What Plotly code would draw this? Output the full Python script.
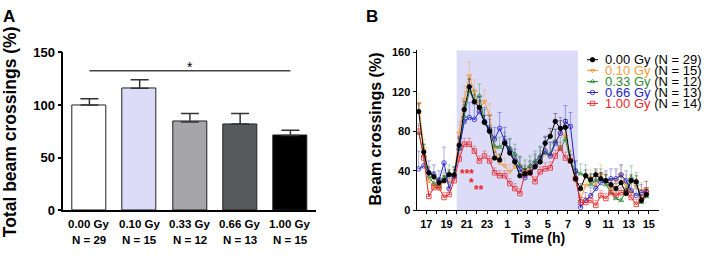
import plotly.graph_objects as go

W, H = 709, 256
FONT = "Liberation Sans, Arial, sans-serif"


def px(x):
    return x / W


def py(y):
    return 1 - y / H


def rgba(hex_col, a):
    h = hex_col.lstrip("#")
    return f"rgba({int(h[0:2], 16)},{int(h[2:4], 16)},{int(h[4:6], 16)},{a})"


# ---------------- Panel A data ----------------
doses_a = ["0.00 Gy", "0.10 Gy", "0.33 Gy", "0.66 Gy", "1.00 Gy"]
n_a = [29, 15, 12, 13, 15]
total_mean = [100, 116, 84, 82, 71]
total_sem = [6, 8, 8, 10, 5]
bar_colors = ["#FFFFFF", "#DCDCF8", "#A6A6AA", "#58595B", "#000000"]

# ---------------- Panel B data ----------------
time_h = [16.25, 16.75, 17.25, 17.75, 18.25, 18.75, 19.25, 19.75, 20.25, 20.75,
          21.25, 21.75, 22.25, 22.75, 23.25, 23.75, 24.25, 24.75, 25.25, 25.75,
          26.25, 26.75, 27.25, 27.75, 28.25, 28.75, 29.25, 29.75, 30.25, 30.75,
          31.25, 31.75, 32.25, 32.75, 33.25, 33.75, 34.25, 34.75, 35.25, 35.75,
          36.25, 36.75, 37.25, 37.75, 38.25, 38.75]
tick_hours = [17, 18, 19, 20, 21, 22, 23, 24, 25, 26, 27, 28, 29, 30, 31, 32, 33, 34, 35, 36, 37, 38, 39]
tick_labels = ["17", "", "19", "", "21", "", "23", "", "1", "", "3", "", "5", "", "7", "",
               "9", "", "11", "", "13", "", "15"]
dark_start, dark_end = 20, 32

doses_b = ["0.00 Gy", "0.10 Gy", "0.33 Gy", "0.66 Gy", "1.00 Gy"]
n_b = [29, 15, 12, 13, 14]

y_000 = [100, 59, 38, 34, 28, 30, 36, 36, 66, 102, 125, 110, 104, 89, 80, 53, 51, 68, 58, 49,
         35, 37, 38, 44, 49, 68, 75, 90, 83, 84, 50, 32, 22, 35, 31, 36, 32, 30, 26, 22,
         28, 17, 30, 29, 10, 16]
y_010 = [108, 62, 30, 24, 22, 30, 28, 34, 78, 112, 136, 120, 103, 110, 96, 62, 48, 45, 39, 44,
         45, 38, 40, 45, 50, 58, 55, 70, 78, 75, 52, 30, 12, 25, 33, 24, 36, 28, 22, 30,
         36, 26, 18, 24, 20, 22]
y_033 = [78, 56, 34, 27, 24, 33, 38, 34, 62, 95, 121, 110, 116, 90, 82, 65, 64, 69, 63, 57,
         45, 41, 45, 50, 55, 58, 57, 70, 62, 72, 50, 40, 37, 36, 26, 30, 32, 26, 18, 12,
         10, 20, 33, 28, 8, 14]
y_066 = [42, 45, 38, 36, 30, 48, 22, 34, 63, 90, 94, 92, 100, 90, 82, 72, 83, 70, 60, 50,
         42, 33, 38, 45, 52, 60, 55, 68, 78, 90, 85, 40, 3, 10, 15, 22, 28, 30, 32, 32,
         36, 30, 20, 15, 18, 19]
y_100 = [80, 53, 14, 23, 23, 13, 16, 30, 52, 67, 67, 60, 50, 55, 50, 38, 35, 35, 27, 22,
         17, 37, 38, 29, 39, 42, 43, 55, 63, 53, 50, 32, 8, 8, 10, 5, 15, 12, 18, 15,
         18, 18, 13, 6, 11, 18]

e_000 = [8, 8, 6, 5, 5, 5, 5, 5, 7, 8, 8, 7, 7, 7, 6, 6, 6, 7, 6, 6, 5, 5, 5, 5, 6, 7, 8, 8, 8, 8,
         6, 6, 5, 6, 6, 6, 6, 6, 5, 5, 6, 5, 6, 6, 5, 5]
e_010 = [10, 10, 8, 8, 8, 8, 8, 10, 12, 14, 14, 12, 12, 12, 12, 10, 8, 8, 8, 8, 8, 8, 8, 10, 10,
         12, 12, 12, 12, 12, 10, 8, 8, 8, 8, 10, 10, 10, 10, 10, 10, 10, 10, 8, 8, 8]
e_033 = [10, 10, 8, 8, 8, 8, 8, 10, 12, 12, 12, 12, 12, 12, 10, 10, 10, 10, 10, 10, 10, 10, 10,
         10, 10, 12, 12, 12, 12, 12, 10, 10, 10, 10, 10, 10, 10, 10, 10, 10, 10, 10, 12, 10, 8, 8]
e_066 = [18, 15, 12, 10, 10, 16, 10, 10, 12, 15, 15, 15, 15, 14, 14, 12, 16, 14, 12, 12, 12, 12,
         12, 12, 12, 14, 14, 14, 16, 16, 14, 10, 8, 8, 8, 10, 10, 10, 10, 10, 10, 10, 10, 10, 8, 10]
e_100 = [6, 6, 5, 5, 5, 5, 5, 5, 6, 6, 6, 5, 5, 5, 5, 5, 5, 5, 5, 5, 5, 5, 5, 5, 5, 6, 6, 6, 6,
         6, 6, 5, 5, 5, 5, 5, 5, 5, 5, 5, 5, 5, 5, 5, 5, 5]

series_y = [y_000, y_010, y_033, y_066, y_100]
series_e = [e_000, e_010, e_033, e_066, e_100]
series_colors = ["#000000", "#F39B3D", "#2E8B34", "#2424C8", "#E8262B"]
series_symbols = ["circle", "triangle-down-open", "triangle-up-open", "circle-open", "square-open"]
draw_order = [1, 2, 3, 4, 0]

fig = go.Figure()

# ---------------- Panel A ----------------
fig.add_trace(go.Bar(
    x=list(range(len(doses_a))), y=total_mean,
    marker=dict(color=bar_colors, line=dict(color="#222222", width=1)),
    width=0.68,
    error_y=dict(type="data", array=total_sem, arrayminus=[0] * len(total_sem), symmetric=False,
                 color="#333333", thickness=1.5, width=9),
    xaxis="x", yaxis="y", showlegend=False, hoverinfo="skip",
))

# ---------------- Panel B ----------------
fig.add_shape(type="rect", xref="x2", yref="y2", x0=dark_start, x1=dark_end, y0=0, y1=162,
              fillcolor="#DCDCF8", line=dict(width=0), layer="below")

for k in draw_order:
    col = series_colors[k]
    fig.add_trace(go.Scatter(
        x=time_h, y=series_y[k], mode="lines+markers",
        line=dict(color=col, width=1),
        marker=dict(symbol=series_symbols[k], size=4.5, color=col, line=dict(color=col, width=0.8)),
        error_y=dict(type="data", array=series_e[k], arrayminus=[0] * len(series_e[k]),
                     symmetric=False, color=rgba(col, 0.55), thickness=0.7, width=2),
        xaxis="x2", yaxis="y2", showlegend=False, hoverinfo="skip",
    ))

# custom legend glyphs on a hidden pixel-space overlay axis
leg_rows = [56 + 11.6 * k for k in range(len(doses_b))]
for k in range(len(doses_b)):
    col = series_colors[k]
    fig.add_trace(go.Scatter(
        x=[587, 598], y=[leg_rows[k], leg_rows[k]], mode="lines",
        line=dict(color=col, width=1), xaxis="x3", yaxis="y3", showlegend=False, hoverinfo="skip"))
    fig.add_trace(go.Scatter(
        x=[592.5], y=[leg_rows[k]], mode="markers",
        marker=dict(symbol=series_symbols[k], size=4.5, color=col, line=dict(color=col, width=0.8)),
        xaxis="x3", yaxis="y3", showlegend=False, hoverinfo="skip"))

annotations = []
for k in range(len(doses_b)):
    dose_col = series_colors[k]
    annotations.append(dict(
        x=px(603), y=py(leg_rows[k]), xref="paper", yref="paper", xanchor="left", yanchor="middle",
        text=f'<span style="color:{dose_col}">{doses_b[k]}</span> (N = {n_b[k]})',
        showarrow=False, font=dict(family=FONT, size=13, color="#000000")))

# Panel A category labels (two rows)
for i, d in enumerate(doses_a):
    annotations.append(dict(x=i, y=py(230), xref="x", yref="paper", text=f"<b>{d}</b>",
                            showarrow=False, xanchor="center", yanchor="middle",
                            font=dict(family=FONT, size=11.5, color="#000")))
    annotations.append(dict(x=i, y=py(248), xref="x", yref="paper", text=f"<b>N = {n_a[i]}</b>",
                            showarrow=False, xanchor="center", yanchor="middle",
                            font=dict(family=FONT, size=11.5, color="#000")))

# significance in panel A
fig.add_shape(type="line", xref="x", yref="y", x0=0, x1=len(doses_a) - 1, y0=132.6, y1=132.6,
              line=dict(color="#444444", width=1.5))
annotations.append(dict(x=2, y=py(64), xref="x", yref="paper", text="*", showarrow=False,
                        xanchor="center", yanchor="middle",
                        font=dict(family=FONT, size=14, color="#000")))

# significance in panel B
for txt, xx, yy in [("***", 21.07, 37.1), ("*", 21.48, 27.3), ("**", 22.2, 20.3)]:
    annotations.append(dict(x=xx, y=yy, xref="x2", yref="y2", text=f"<b>{txt}</b>", showarrow=False,
                            xanchor="center", yanchor="middle",
                            font=dict(family=FONT, size=12, color="#E8262B")))

# titles / panel letters
annotations += [
    dict(x=px(9), y=py(10), xref="paper", yref="paper", text="<b>A</b>", showarrow=False,
         xanchor="center", yanchor="middle", font=dict(family=FONT, size=17, color="#000")),
    dict(x=px(372), y=py(10), xref="paper", yref="paper", text="<b>B</b>", showarrow=False,
         xanchor="center", yanchor="middle", font=dict(family=FONT, size=17, color="#000")),
    dict(x=px(10), y=py(133), xref="paper", yref="paper", text="<b>Total beam crossings (%)</b>",
         textangle=-90, showarrow=False, xanchor="center", yanchor="middle",
         font=dict(family=FONT, size=17.5, color="#000")),
    dict(x=px(375), y=py(129), xref="paper", yref="paper", text="<b>Beam crossings (%)</b>",
         textangle=-90, showarrow=False, xanchor="center", yanchor="middle",
         font=dict(family=FONT, size=16, color="#000")),
    dict(x=px(538), y=py(245), xref="paper", yref="paper", text="<b>Time (h)</b>",
         showarrow=False, xanchor="center", yanchor="middle",
         font=dict(family=FONT, size=14, color="#000")),
]

fig.update_layout(
    width=W, height=H, autosize=False,
    margin=dict(l=0, r=0, t=0, b=0, pad=0),
    paper_bgcolor="white", plot_bgcolor="rgba(0,0,0,0)",
    font=dict(family=FONT, color="#000"),
    bargap=0,
    annotations=annotations,
    xaxis=dict(domain=[px(63.3), px(316)], range=[-0.52, 4.51], showline=True, linecolor="#000",
               linewidth=1.5, showticklabels=False, ticks="", showgrid=False, zeroline=False,
               fixedrange=True, anchor="y"),
    yaxis=dict(domain=[py(216), py(48.3)], range=[0, 150], tickvals=[0, 50, 100, 150],
               showline=True, linecolor="#000", linewidth=1.5, ticks="outside", ticklen=4,
               tickwidth=1.5, tickcolor="#000", showgrid=False, zeroline=False,
               tickfont=dict(family=FONT, size=13, color="#000", weight="bold"), fixedrange=True,
               anchor="x"),
    xaxis2=dict(domain=[px(416.7), px(659)], range=[16.05, 40.0], tickvals=tick_hours,
                ticktext=tick_labels, showline=True, linecolor="#000", linewidth=1.3,
                ticks="outside", ticklen=3, tickwidth=1, tickcolor="#000", showgrid=False,
                zeroline=False, tickangle=0,
                tickfont=dict(family=FONT, size=11, color="#000", weight="bold"), anchor="y2"),
    yaxis2=dict(domain=[py(216), py(46)], range=[0, 162], tickvals=[0, 40, 80, 120, 160],
                showline=True, linecolor="#000", linewidth=1.3, ticks="outside", ticklen=3,
                tickwidth=1, tickcolor="#000", showgrid=False, zeroline=False,
                tickfont=dict(family=FONT, size=11, color="#000", weight="bold"), anchor="x2"),
    xaxis3=dict(domain=[0, 1], range=[0, W], visible=False, fixedrange=True, anchor="y3"),
    yaxis3=dict(domain=[0, 1], range=[H, 0], visible=False, fixedrange=True, anchor="x3"),
)

fig.write_html("out.html", config={"displayModeBar": False},
               post_script="document.body.style.margin='0';document.body.style.overflow='hidden';")
